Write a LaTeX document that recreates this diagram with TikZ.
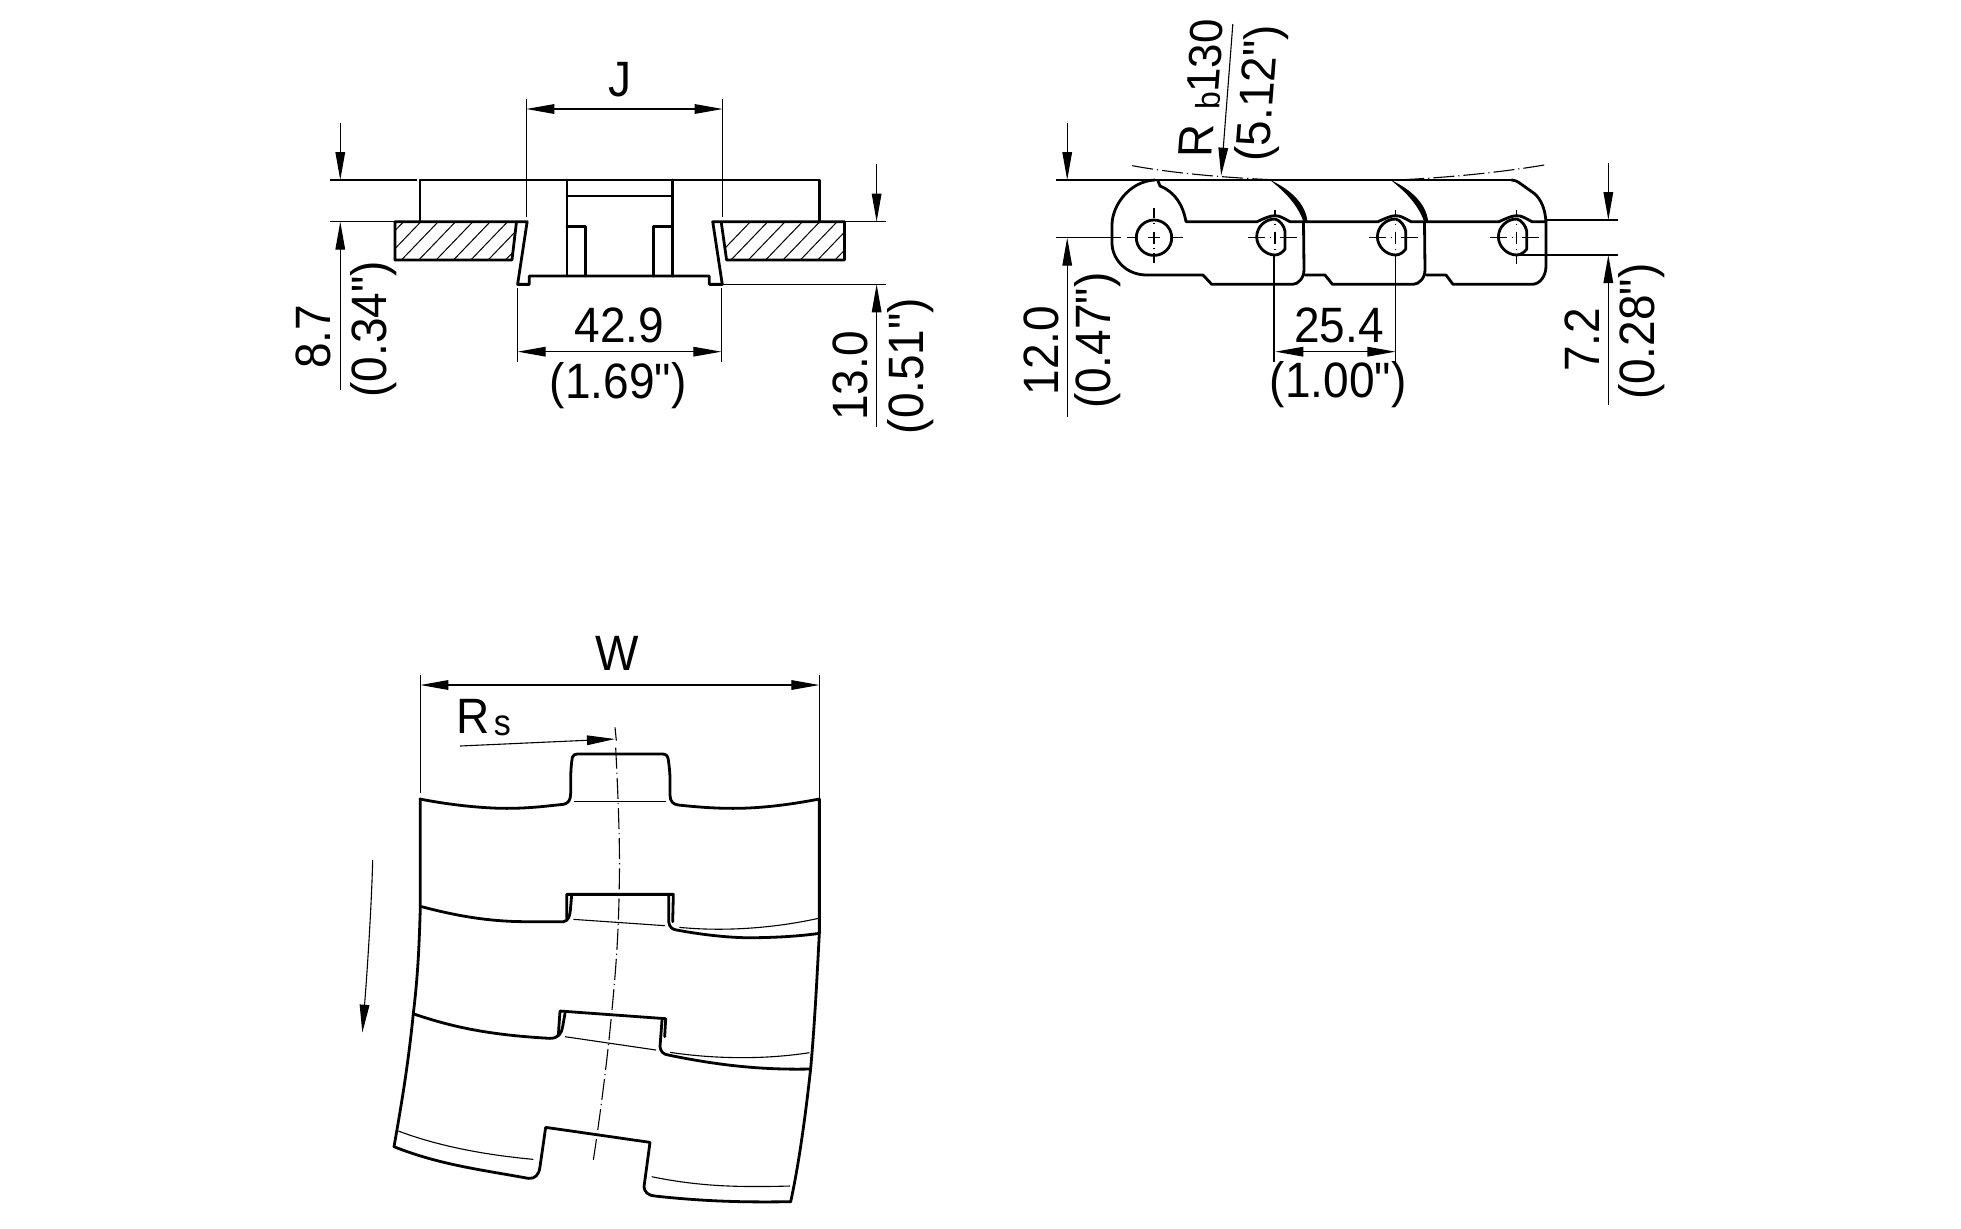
\documentclass[tikz,border=0pt]{standalone}
\usepackage{fontspec}
\setmainfont[Ligatures=TeXOff]{Liberation Sans}
\usetikzlibrary{arrows.meta}
\tikzset{
  obj/.style={line width=1.4pt,line join=round,line cap=round},
  dim/.style={line width=0.55pt},
  tip/.style={dim,-{Triangle[length=14pt,width=4.8pt]}},
  both/.style={dim,{Triangle[length=14pt,width=4.8pt]}-{Triangle[length=14pt,width=4.8pt]}},
  cdash/.style={line width=0.55pt,dash pattern=on 10.5pt off 2pt on 0.6pt off 2pt},
  cross/.style={line width=0.55pt},
  lbl/.style={inner sep=0pt,yscale=1.08,font=\fontsize{23}{23}\selectfont},
  vlbl/.style={inner sep=0pt,rotate=90,yscale=1.08,font=\fontsize{23}{23}\selectfont},
  slbl/.style={inner sep=0pt,font=\fontsize{23}{23}\selectfont,cm={0.077,0.997,-1.05,0,(0,0)}},
  hatch/.style={line width=0.5pt},
  wide/.style={shift={(#1)},x=0.2168pt,y=-0.16667pt},
  even/.style={shift={(#1)},x=0.16667pt,y=-0.16667pt}
}
\begin{document}
\begin{tikzpicture}[x=0.5pt,y=-0.5pt]
\useasboundingbox (0,0) rectangle (1961,1228);
\fill[white] (0,0) rectangle (1961,1228);
% ---------------- front view
\begin{scope}[wide={280,50}]
 \begin{scope}
  \clip (265,515) -- (545,515) -- (535,630) -- (265,630) -- cycle;
  \foreach \i in {200,240,...,560} \draw[hatch] (\i,630) -- (\i+85,515);
 \end{scope}
 \begin{scope}
  \clip (1018,515) -- (1302,515) -- (1302,630) -- (1030,630) -- cycle;
  \foreach \i in {1000,1040,...,1320} \draw[hatch] (\i,630) -- (\i+85,515);
 \end{scope}
 \draw[obj] (323,515) -- (323,390) -- (1245,390) -- (1245,515);
 \draw[obj] (545,520) -- (535,630) -- (265,630) -- (265,515) -- (570,515) -- (548,703) -- (575,703) -- (575,678) -- (990,678) -- (990,703) -- (1020,703) -- (998,515) -- (1302,515) -- (1302,630) -- (1030,630) -- (1018,520);
 \draw[obj] (662,390) -- (662,678) (905,390) -- (905,678);
 \draw[obj] (662,438) -- (905,438);
 \draw[obj] (662,530) -- (705,530) -- (705,678);
 \draw[obj] (905,530) -- (862,530) -- (862,678);
 % dimensions
 \draw[dim] (568,148) -- (568,500) (1021,148) -- (1021,500);
 \draw[both] (568,177) -- (1021,177);
 \node[lbl] (tJ) at (785,90) {J};
 \draw[dim] (115,390) -- (315,390) (115,515) -- (265,515);
 \draw[tip] (139,218) -- (139,390);
 \draw[tip] (139,1020) -- (139,515);
 \node[vlbl] (t87) at (78,860) {8.7};
 \node[vlbl] (t034) at (215,838) {(0.34")};
 \draw[dim] (1302,515) -- (1398,515) (1020,703) -- (1398,703);
 \draw[tip] (1376,342) -- (1376,515);
 \draw[tip] (1376,1130) -- (1376,703);
 \node[vlbl] (t130) at (1315,978) {13.0};
 \node[vlbl] (t051) at (1455,948) {(0.51")};
 \draw[dim] (548,715) -- (548,935) (1018,715) -- (1018,935);
 \draw[both] (548,905) -- (1018,905);
 \node[lbl] (t429) at (783,825) {42.9};
 \node[lbl] (t169) at (780,1008) {(1.69")};
\end{scope}
% ---------------- side view (reference pixels)
 % first link
 \draw[obj] (1155,180) .. controls (1130,181) and (1112,205) .. (1112,225) -- (1112,243) .. controls (1112,258) and (1125,275) .. (1146.7,275) -- (1203,275) -- (1211.7,284.3) -- (1292.7,284.3) .. controls (1298,284.3) and (1304,278) .. (1304,270) -- (1303.5,222);
 % second link
 \draw[obj] (1305,275) -- (1325,275) -- (1332.4,284.3) -- (1413.4,284.3) .. controls (1419,284.3) and (1425,278) .. (1425,270) -- (1424.5,222);
 % third link
 \draw[obj] (1426,275) -- (1446,275) -- (1453,284.3) -- (1532,284.3) .. controls (1540,284.3) and (1546,276) .. (1546,266) -- (1546,222) .. controls (1545,208) and (1541,200) .. (1535,194) -- (1521,184) .. controls (1517,181) and (1514,180) .. (1511.7,180);
 % top edge
 \draw[obj] (1155,180) -- (1511.7,180);
 % inner edge with bumps over the slots
 \draw[obj] (1158,181) -- (1160,186) .. controls (1175,192) and (1183,205) .. (1186,221.7) -- (1257,221.7) .. controls (1265,218) and (1270,215.7) .. (1275,215.7) .. controls (1280,215.7) and (1283,218) .. (1290,221.7) -- (1378,221.7) .. controls (1386,218) and (1391,215.7) .. (1395.7,215.7) .. controls (1401,215.7) and (1404,218) .. (1411,221.7) -- (1499,221.7) .. controls (1507,218) and (1512,215.7) .. (1516.7,215.7) .. controls (1522,215.7) and (1525,218) .. (1532,221.7) -- (1546,221.7);
 % crescents
 \foreach \d in {0,120.7} {
  \fill[black] (1270+\d,180) .. controls (1292+\d,190) and (1306+\d,205) .. (1307.5+\d,222) -- (1303.5+\d,222) .. controls (1298+\d,205) and (1285+\d,192) .. (1270+\d,180) -- cycle;
 }
 % holes
 \draw[obj] (1154,237.7) circle [radius=17.7];
 \foreach \c in {1275,1395.7,1516.7} {
  \draw[obj] (\c,219) .. controls (\c-10,219) and (\c-18.3,227) .. (\c-18.3,237) .. controls (\c-18.3,246) and (\c-10,255) .. (\c,255) .. controls (\c+4,255) and (\c+8,252) .. (\c+10,249) -- (\c+10,231) .. controls (\c+9,226) and (\c+5,220) .. (\c,219);
  \draw[cross] (\c-27,237.7) -- (\c-10,237.7) (\c-5,237.7) -- (\c-4,237.7) (\c+5,237.7) -- (\c+22,237.7);
  \draw[cross] (\c,210) -- (\c,217) (\c,223.5) -- (\c,224.5) (\c,231.5) -- (\c,243.5) (\c,249) -- (\c,250);
 }
 \draw[cross] (1516.7,255) -- (1516.7,264);
 \draw[cross] (1127,237.7) -- (1135,237.7) (1148,237.7) -- (1160,237.7) (1173,237.7) -- (1183,237.7);
 \draw[cross] (1154,208) -- (1154,218) (1154,223) -- (1154,224) (1154,231.5) -- (1154,243.5) (1154,248) -- (1154,249) (1154,253) -- (1154,263);
\begin{scope}[wide={1000,10}]
 % curved centre line
 \draw[cdash] (305,467) .. controls (400,490) and (520,503) .. (640,510);
 \draw[cdash] (1255,465) .. controls (1150,488) and (1030,503) .. (915,510);
 % dimensions
 \draw[dim] (130,510) -- (345,510) (130,683) -- (255,683) (258,683) -- (278,683);
 \draw[tip] (155,340) -- (155,510);
 \draw[tip] (155,1220) -- (155,683);
 \node[vlbl] (t120) at (95,1022) {12.0};
 \node[vlbl] (t047) at (225,992) {(0.47")};
 \draw[tip] (537,42) -- (510,497);
 \node[slbl] (tR) at (452,393) {R};
 \node[slbl,font=\fontsize{16}{16}\selectfont] (tb) at (480,272) {b};
 \node[slbl,font=\fontsize{22}{22}\selectfont] (t130r) at (473,138) {130};
 \node[slbl] (t512) at (603,250) {(5.12")};
 \draw[dim] (632,735) -- (632,1055) (912,735) -- (912,1055);
 \draw[both] (635,1025) -- (912,1025);
 \node[lbl] (t254) at (782,945) {25.4};
 \node[lbl] (t100) at (780,1125) {(1.00")};
 \draw[dim] (1258,630) -- (1425,630) (1200,735) -- (1425,735);
 \draw[tip] (1403,460) -- (1403,630);
 \draw[tip] (1403,1185) -- (1403,735);
 \node[vlbl] (t72) at (1342,990) {7.2};
 \node[vlbl] (t028) at (1480,965) {(0.28")};
\end{scope}
% ---------------- top view
\begin{scope}[even={340,620}]
 \draw[dim] (241,165) -- (241,518) (1438,165) -- (1438,535);
 \draw[both] (241,195) -- (1438,195);
 \node[lbl] (tW) at (832,100) {W};
 \node[lbl] (tRR) at (400,290) {R};
 \node[lbl,font=\fontsize{17}{17}\selectfont] (ts) at (487,316) {s};
 \draw[tip] (360,378) -- (825,357);
 \draw[dim] (825,322) -- (829,362);
 \draw[cdash] (827,383) .. controls (835,540) and (840,680) .. (838,780) .. controls (836,960) and (825,1080) .. (810,1230) .. controls (800,1330) and (780,1490) .. (760,1620);
 \draw[obj] (240,537) .. controls (330,555) and (430,565) .. (500,565) .. controls (570,565) and (620,558) .. (670,553) .. controls (685,550) and (692,540) .. (692,520) -- (692,470) .. controls (693,440) and (695,425) .. (697,412) .. controls (699,405) and (705,402) .. (712,402) -- (968,402) .. controls (978,402) and (984,408) .. (985,420) .. controls (988,440) and (990,460) .. (990,480) -- (990,525) .. controls (990,545) and (1000,553) .. (1015,555) .. controls (1080,562) and (1130,565) .. (1180,565) .. controls (1270,565) and (1360,552) .. (1438,537);
 \draw[dim] (702,545) -- (978,545);
 \draw[obj] (241,537) -- (241,860) .. controls (237,1000) and (232,1080) .. (220,1180) .. controls (205,1330) and (185,1450) .. (162,1580);
 \draw[obj] (1438,537) -- (1438,940) .. controls (1432,1050) and (1425,1200) .. (1412,1345) .. controls (1395,1500) and (1375,1640) .. (1352,1745);
 % second link edge
 \draw[obj] (245,860) .. controls (340,885) and (440,905) .. (560,905) -- (670,905) .. controls (685,903) and (690,890) .. (692,860) -- (695,825);
 \draw[obj] (680,895) -- (680,823) -- (1000,823) -- (998,905);
 \draw[obj] (986,825) -- (986,905) .. controls (988,920) and (995,928) .. (1010,930) .. controls (1090,945) and (1180,955) .. (1250,953) .. controls (1320,952) and (1380,948) .. (1438,940);
 \draw[dim] (700,898) -- (975,917);
 \draw[dim] (1018,922) .. controls (1150,935) and (1300,925) .. (1435,895);
 % third link edge
 \draw[obj] (222,1182) .. controls (340,1222) and (450,1245) .. (630,1255) .. controls (655,1255) and (665,1240) .. (668,1220) -- (675,1180);
 \draw[obj] (655,1245) -- (660,1173) -- (977,1196) -- (974,1250);
 \draw[obj] (966,1200) -- (960,1280) .. controls (962,1295) and (970,1303) .. (985,1305) .. controls (1130,1335) and (1260,1350) .. (1408,1347);
 \draw[dim] (675,1250) -- (948,1290);
 \draw[dim] (990,1297) .. controls (1130,1318) and (1280,1318) .. (1408,1298);
 % bottom edge
 \draw[obj] (162,1580) .. controls (300,1635) and (430,1650) .. (565,1675) .. controls (585,1677) and (597,1665) .. (600,1640) -- (617,1522) -- (930,1567) -- (912,1700) .. controls (912,1715) and (925,1727) .. (945,1728) .. controls (1100,1745) and (1220,1747) .. (1352,1745);
 \draw[dim] (175,1533) .. controls (300,1580) and (440,1605) .. (580,1618);
 \draw[dim] (935,1670) .. controls (1080,1700) and (1200,1702) .. (1350,1698);
 % direction arrow
 \draw[tip] (98,720) .. controls (95,850) and (82,1050) .. (67,1238);
\end{scope}
\end{tikzpicture}
\end{document}
